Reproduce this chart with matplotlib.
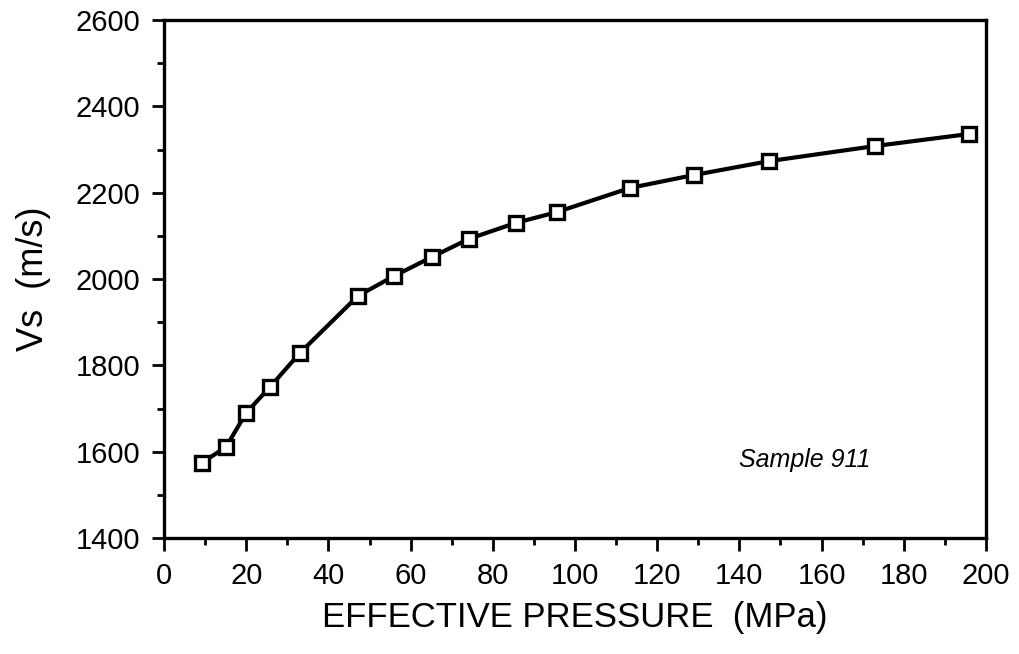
import matplotlib
matplotlib.use("Agg")
import matplotlib.pyplot as plt
from matplotlib.ticker import MultipleLocator

# values
pressure = [9.2, 15.1, 20.0, 25.8, 33.1, 47.2, 56.0, 65.2, 74.2, 85.6,
            95.6, 113.4, 129.0, 147.2, 173.0, 195.9]
vs = [1574, 1611, 1690, 1750, 1829, 1961, 2007, 2051, 2093, 2130,
      2155, 2211, 2241, 2273, 2308, 2336]

x_ticks = list(range(0, 201, 20))
y_ticks = list(range(1400, 2601, 200))

plt.rcParams['font.family'] = ['Liberation Sans', 'DejaVu Sans']

fig = plt.figure(figsize=(10.2, 6.54), dpi=100)
ax = fig.add_axes([164 / 1020, 1 - 538 / 654, (986 - 164) / 1020, (538 - 20) / 654])

ax.plot(pressure, vs, color='black', linewidth=3, marker='s', markersize=10,
        markerfacecolor='white', markeredgecolor='black', markeredgewidth=2.4)

ax.set_xlim(0, 200)
ax.set_ylim(1400, 2600)
ax.set_xticks(x_ticks)
ax.set_yticks(y_ticks)
ax.xaxis.set_minor_locator(MultipleLocator(10))
ax.yaxis.set_minor_locator(MultipleLocator(100))
ax.tick_params(which='major', direction='out', length=9, width=2, labelsize=21, pad=8)
ax.tick_params(which='minor', direction='out', length=5, width=2)

for sp in ax.spines.values():
    sp.set_linewidth(2.4)

ax.set_xlabel('EFFECTIVE PRESSURE  (MPa)', fontsize=25, labelpad=8)
ax.set_ylabel('Vs  (m/s)', fontsize=26, labelpad=18)

ax.text(156, 1580, 'Sample 911', fontsize=18, style='italic', ha='center', va='center')

fig.savefig('out.png', dpi=100)
